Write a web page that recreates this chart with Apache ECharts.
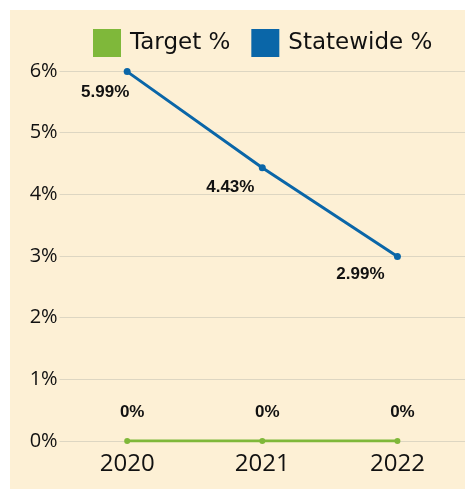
<!DOCTYPE html>
<html>
<head>
<meta charset="utf-8">
<script src="https://cdn.jsdelivr.net/npm/echarts@6/dist/echarts.min.js"></script>
<style>
html,body{margin:0;padding:0;background:#fff;}
#bg{position:absolute;left:10px;top:10px;width:455px;height:479px;background:#FDF0D5;}
#chart{position:absolute;left:0;top:0;width:465px;height:489px;}
</style>
</head>
<body>
<div id="bg"></div>
<div id="chart"></div>
<script>
var categories = ['2020', '2021', '2022'];
var targetValues = [0, 0, 0];
var statewideValues = [5.99, 4.43, 2.99];
var yTicks = [0, 1, 2, 3, 4, 5, 6];

var FONT = '"Open Sans", "Liberation Sans", sans-serif';
var LEGEND_FONT = '"DejaVu Sans", "Open Sans", sans-serif';
var LABEL_FONT = '"Liberation Sans", Arial, sans-serif';
var blueOffsets = [[-22, 0], [-32, -2], [-37, -3]];

var chart = echarts.init(document.getElementById('chart'));
chart.setOption({
  backgroundColor: 'transparent',
  textStyle: { fontFamily: FONT },
  legend: {
    left: 88, top: 24,
    itemWidth: 28, itemHeight: 28, itemGap: 21,
    icon: 'rect',
    textStyle: { fontSize: 23, color: '#111', fontFamily: LEGEND_FONT, padding: [0, 0, 0, 4] },
    data: ['Target %', 'Statewide %']
  },
  grid: { left: 59.6, right: -3, top: 71, bottom: 48, containLabel: false },
  xAxis: {
    type: 'category',
    data: categories,
    boundaryGap: true,
    axisLine: { show: false },
    axisTick: { show: false },
    axisLabel: { fontSize: 24, color: '#111', margin: 11, fontFamily: FONT }
  },
  yAxis: {
    type: 'value',
    min: yTicks[0], max: yTicks[yTicks.length - 1], interval: 1,
    axisLine: { show: false },
    axisTick: { show: false },
    axisLabel: { fontSize: 20, color: '#111', margin: 2, formatter: '{value}%', fontFamily: FONT },
    splitLine: { lineStyle: { color: '#DDD6C2', width: 1 } }
  },
  series: [
    {
      name: 'Target %',
      type: 'line',
      data: targetValues,
      color: '#8CC43F',
      lineStyle: { width: 3, color: '#7FB83A' },
      symbol: 'circle', symbolSize: 6,
      itemStyle: { color: '#7FB83A' },
      label: {
        show: true, position: 'top', distance: 17, offset: [5, 0],
        formatter: function (p) { return p.value + '%'; },
        fontSize: 17, fontWeight: 'bold', color: '#111', fontFamily: LABEL_FONT
      },
      z: 3
    },
    {
      name: 'Statewide %',
      type: 'line',
      data: statewideValues.map(function (v, i) {
        return { value: v, label: { offset: blueOffsets[i] } };
      }),
      color: '#0066AA',
      lineStyle: { width: 3, color: '#0A66A8' },
      symbol: 'circle', symbolSize: 7,
      itemStyle: { color: '#0A66A8' },
      label: {
        show: true, position: 'bottom', distance: 9,
        formatter: function (p) { return p.value.toFixed(2) + '%'; },
        fontSize: 17, fontWeight: 'bold', color: '#111', fontFamily: LABEL_FONT
      },
      z: 4
    }
  ]
});
</script>
</body>
</html>
